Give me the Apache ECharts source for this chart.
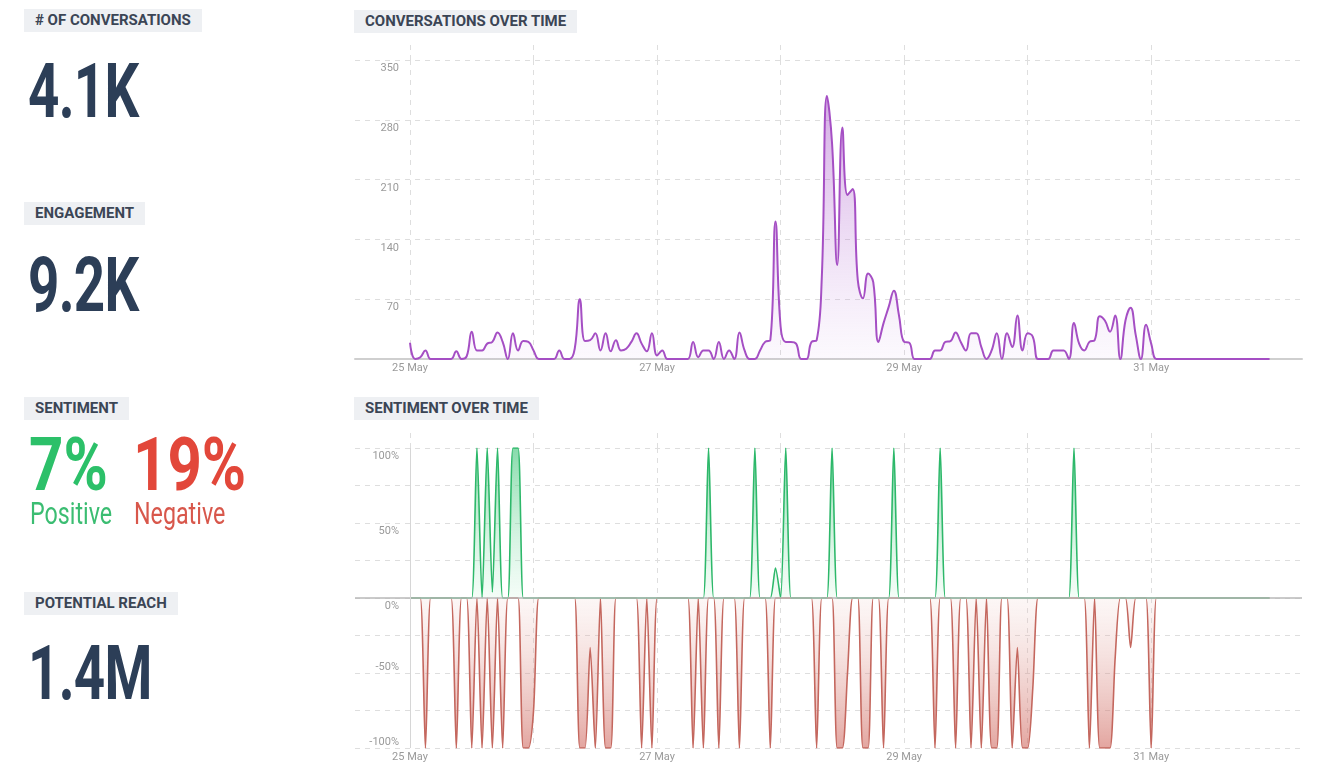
<!DOCTYPE html>
<html>
<head>
<meta charset="utf-8">
<title>Conversations dashboard</title>
<script src="https://cdn.jsdelivr.net/npm/echarts@6/dist/echarts.min.js"></script>
<style>
html, body { margin: 0; padding: 0; background: #fff; }
#page { position: relative; width: 1328px; height: 765px; overflow: hidden; }
#chart { position: absolute; left: 0; top: 0; width: 1328px; height: 765px; }
.tag {
  position: absolute; height: 23px; line-height: 23px; padding: 0 11px;
  background: #eef0f3; color: #3b4555; white-space: nowrap;
  font-family: Roboto, sans-serif; font-weight: bold; font-size: 15px;
}
.big {
  position: absolute; white-space: nowrap; line-height: 1; font-weight: bold;
  font-family: Roboto, sans-serif; transform-origin: 0 0;
}
.kpi { color: #2c3e57; font-size: 76px; letter-spacing: -1px; transform: scaleX(0.72); }
.pct { font-size: 75px; transform: scaleX(0.8); }
.word {
  position: absolute; white-space: nowrap; line-height: 1; font-size: 31px;
  font-family: Roboto, sans-serif; transform-origin: 0 0; transform: scaleX(0.75);
}
.green { color: #2cc069; }
.red { color: #e2473a; }
</style>
</head>
<body>
<div id="page">
  <div id="chart"></div>

  <div class="tag" style="left:24px; top:9px;"># OF CONVERSATIONS</div>
  <div class="big kpi" style="left:28px; top:53px;">4.1K</div>

  <div class="tag" style="left:24px; top:202px;">ENGAGEMENT</div>
  <div class="big kpi" style="left:28px; top:247px;">9.2K</div>

  <div class="tag" style="left:24px; top:397px;">SENTIMENT</div>
  <div class="big pct green" style="left:29px; top:427px;">7%</div>
  <div class="big pct red" style="left:133px; top:427px;">19%</div>
  <div class="word" style="left:30px; top:498px; color:#3bbd72;">Positive</div>
  <div class="word" style="left:134px; top:498px; color:#d8574b;">Negative</div>

  <div class="tag" style="left:24px; top:592px;">POTENTIAL REACH</div>
  <div class="big kpi" style="left:28px; top:635px;">1.4M</div>

  <div class="tag" style="left:354px; top:10px;">CONVERSATIONS OVER TIME</div>
  <div class="tag" style="left:354px; top:397px;">SENTIMENT OVER TIME</div>
</div>

<script>
// hourly buckets starting 25 May 00:00, one row per day
var dayLabels = ['25 May', '26 May', '27 May', '28 May', '29 May', '30 May', '31 May'];
var dayTicks = [0, 24, 48, 72, 96, 120, 144];
var labelTicks = [0, 48, 96, 144];

var conversations = [
  19, 0, 2, 10, 0, 0, 0, 0, 0, 9, 0, 3, 32, 10, 10, 18, 20, 31, 20, 0, 30, 10, 21, 20,
  10, 0, 0, 0, 0, 10, 0, 0, 12, 70, 21, 22, 30, 10, 30, 9, 22, 10, 12, 20, 30, 18, 9, 30,
  4, 10, 0, 0, 0, 0, 0, 20, 2, 10, 10, 0, 20, 0, 10, 0, 31, 10, 0, 0, 10, 20, 22, 161,
  38, 20, 20, 18, 0, 0, 20, 22, 95, 308, 252, 110, 271, 192, 199, 92, 71, 100, 90, 20, 42, 61, 80, 51,
  20, 19, 0, 0, 0, 0, 10, 10, 20, 21, 31, 20, 10, 30, 30, 14, 0, 10, 30, 0, 30, 14, 51, 10,
  30, 26, 0, 0, 0, 10, 10, 10, 0, 42, 18, 10, 20, 22, 50, 45, 32, 51, 0, 45, 60, 28, 0, 40,
  18, 0, 0, 0, 0, 0, 0, 0, 0, 0, 0, 0, 0, 0, 0, 0, 0, 0, 0, 0, 0, 0, 0, 0
];

var positive = [
  0, 0, 0, 0, 0, 0, 0, 0, 0, 0, 0, 0, 0, 100, 0, 100, 4, 100, 0, 0, 100, 100, 0, 0,
  0, 0, 0, 0, 0, 0, 0, 0, 0, 0, 0, 0, 0, 0, 0, 0, 0, 0, 0, 0, 0, 0, 0, 0,
  0, 0, 0, 0, 0, 0, 0, 0, 0, 0, 100, 0, 0, 0, 0, 0, 0, 0, 0, 100, 0, 0, 0, 20,
  0, 100, 0, 0, 0, 0, 0, 0, 0, 0, 100, 0, 0, 0, 0, 0, 0, 0, 0, 0, 0, 0, 100, 0,
  0, 0, 0, 0, 0, 0, 0, 100, 0, 0, 0, 0, 0, 0, 0, 0, 0, 0, 0, 0, 0, 0, 0, 0,
  0, 0, 0, 0, 0, 0, 0, 0, 0, 100, 0, 0, 0, 0, 0, 0, 0, 0, 0, 0, 0, 0, 0, 0,
  0, 0, 0, 0, 0, 0, 0, 0, 0, 0, 0, 0, 0, 0, 0, 0, 0, 0, 0, 0, 0, 0, 0, 0
];

var negative = [
  0, 0, 0, -100, 0, 0, 0, 0, 0, -100, 0, 0, -100, 0, -100, 0, -100, 0, -100, 0, 0, 0, -100, -100,
  -75, 0, 0, 0, 0, 0, 0, 0, 0, -100, -100, -33, -100, 0, -100, -100, 0, 0, 0, 0, 0, -100, 0, -100,
  0, 0, 0, 0, 0, 0, 0, -100, 0, -100, 0, 0, -100, 0, 0, 0, -100, 0, 0, 0, 0, 0, -100, 0,
  0, 0, 0, 0, 0, 0, 0, -100, 0, 0, 0, -100, -100, -50, 0, 0, -100, -100, 0, 0, -100, 0, 0, 0,
  0, 0, 0, 0, 0, 0, -100, 0, 0, 0, -100, 0, 0, -100, 0, -100, 0, -100, -100, 0, 0, -100, -33, -100,
  -100, -60, 0, 0, 0, 0, 0, 0, 0, 0, 0, 0, -100, 0, -100, -100, -100, -40, 0, 0, -33, 0, 0, 0,
  -100, 0, 0, 0, 0, 0, 0, 0, 0, 0, 0, 0, 0, 0, 0, 0, 0, 0, 0, 0, 0, 0, 0, 0
];

var X_MIN = -10.69;
var X_MAX = 173.3;
var gridLine = { type: [5, 5], color: '#dedede', width: 1 };
var labelColor = '#9a9a9a';

function toPoints(arr) {
  return arr.map(function (v, i) { return [i, v]; });
}

function dayAxis(gridIndex, showLine) {
  return {
    type: 'value', gridIndex: gridIndex, min: X_MIN, max: X_MAX,
    axisLine: { show: showLine, onZero: false, lineStyle: { color: '#cfcfcf', width: 2 } },
    axisTick: { show: false, customValues: dayTicks },
    axisLabel: {
      customValues: labelTicks, margin: 4,
      color: labelColor, fontSize: 11, fontFamily: 'Roboto',
      formatter: function (v) { return dayLabels[Math.round(v / 24)]; }
    },
    splitLine: { show: true, lineStyle: gridLine }
  };
}

// short dashed stubs above the plot, continuing the day lines
function capAxis(gridIndex, len) {
  return {
    type: 'value', gridIndex: gridIndex, position: 'top', min: X_MIN, max: X_MAX,
    axisLine: { show: false, onZero: false },
    axisTick: { show: true, length: len, customValues: dayTicks, lineStyle: gridLine },
    axisLabel: { show: false },
    splitLine: { show: false }
  };
}

function richLabel(pad) {
  return { padding: pad, color: labelColor, fontSize: 11, fontFamily: 'Roboto' };
}

var option = {
  animation: false,
  grid: [
    { left: 355, right: 26, top: 60, bottom: 406, outerBoundsMode: 'none' },
    { left: 355, right: 26, top: 448, bottom: 17, outerBoundsMode: 'none' }
  ],
  xAxis: [dayAxis(0, true), capAxis(0, 17), dayAxis(1, false), capAxis(1, 15)],
  yAxis: [
    {
      type: 'value', gridIndex: 0, min: 0, max: 350, interval: 70,
      axisLine: { show: false },
      axisTick: { show: false },
      splitLine: { lineStyle: gridLine },
      axisLabel: {
        inside: true, align: 'right', margin: 44,
        formatter: function (v) { return v === 0 ? '' : '{lo|' + v + '}'; },
        rich: { lo: richLabel([17, 0, 0, 0]) }
      }
    },
    {
      type: 'value', gridIndex: 1, min: -100, max: 100, interval: 25,
      axisLine: { show: false },
      axisTick: { show: false },
      splitLine: { lineStyle: gridLine },
      axisLabel: {
        inside: true, align: 'right', margin: 44,
        formatter: function (v) {
          if (v % 50 !== 0) return '';
          return v >= 0 ? '{lo|' + v + '%}' : '{hi|' + v + '%}';
        },
        rich: { lo: richLabel([17, 0, 0, 0]), hi: richLabel([0, 0, 11, 0]) }
      }
    }
  ],
  series: [
    {
      name: 'Conversations', type: 'line', xAxisIndex: 0, yAxisIndex: 0,
      data: toPoints(conversations), smooth: 0.45, showSymbol: false,
      lineStyle: { color: '#a54fc4', width: 2 },
      areaStyle: {
        color: new echarts.graphic.LinearGradient(0, 0, 0, 1, [
          { offset: 0, color: 'rgba(160, 70, 195, 0.65)' },
          { offset: 1, color: 'rgba(200, 150, 225, 0.08)' }
        ])
      }
    },
    {
      name: 'Negative', type: 'line', xAxisIndex: 2, yAxisIndex: 1,
      data: toPoints(negative), smooth: 0.25, showSymbol: false,
      lineStyle: { color: '#c4675e', width: 1.6 },
      areaStyle: {
        color: new echarts.graphic.LinearGradient(0, 0, 0, 1, [
          { offset: 0, color: 'rgba(235, 195, 190, 0.2)' },
          { offset: 1, color: 'rgba(205, 95, 85, 0.8)' }
        ])
      },
      markLine: {
        silent: true, symbol: 'none', label: { show: false },
        lineStyle: { color: '#b8b8b8', type: 'solid', width: 1.5 },
        data: [
          { yAxis: 0 },
          { xAxis: 0, lineStyle: { color: '#d6d6d6', width: 1 } }
        ]
      }
    },
    {
      name: 'Positive', type: 'line', xAxisIndex: 2, yAxisIndex: 1,
      data: toPoints(positive), smooth: 0.25, showSymbol: false,
      lineStyle: { color: '#2db86a', width: 1.6 },
      areaStyle: {
        color: new echarts.graphic.LinearGradient(0, 0, 0, 1, [
          { offset: 0, color: 'rgba(40, 190, 105, 0.8)' },
          { offset: 1, color: 'rgba(190, 240, 210, 0.25)' }
        ])
      }
    }
  ]
};

var chart = echarts.init(document.getElementById('chart'));
chart.setOption(option);
window.addEventListener('resize', function () { chart.resize(); });
</script>
</body>
</html>
